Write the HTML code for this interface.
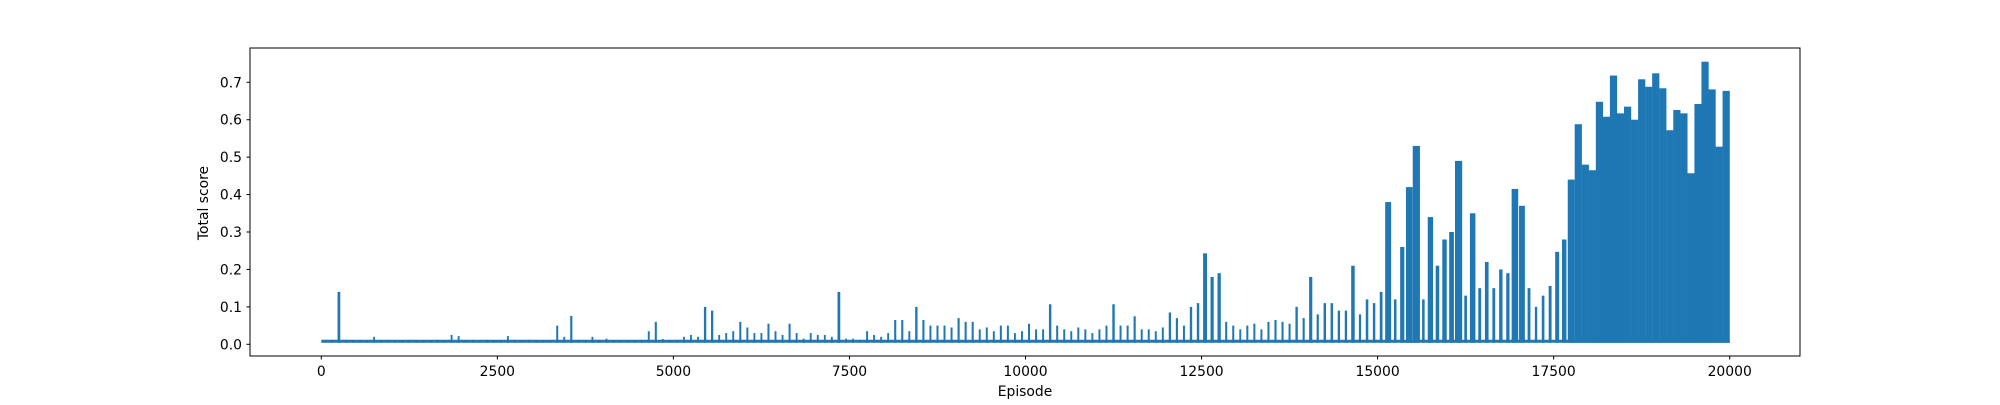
<!DOCTYPE html>
<html><head><meta charset="utf-8"><style>
body{margin:0;background:#fff;}
svg text{font-family:"DejaVu Sans","Liberation Sans",sans-serif;font-size:13.9px;fill:#000;}
</style></head><body>
<svg id="chart" width="2000" height="400" viewBox="0 0 2000 400" xmlns="http://www.w3.org/2000/svg">
<rect width="2000" height="400" fill="#fff"/>
<g id="marks"></g>
<g id="axes"></g>
<rect x="250" y="48" width="1550" height="308" fill="none" stroke="#000" stroke-width="1"/>
<text x="1025" y="396" text-anchor="middle">Episode</text>
<text transform="translate(208,203) rotate(-90)" text-anchor="middle">Total score</text>
</svg>
<script>
const binSize = 100;
const scores = [
0.012,0.012,0.14,0.012,0.01,0.01,0.01,0.02,0.01,0.01,
0.01,0.01,0.012,0.01,0.01,0.01,0.012,0.01,0.025,0.022,
0.01,0.012,0.01,0.012,0.01,0.01,0.022,0.012,0.01,0.012,
0.01,0.01,0.01,0.05,0.02,0.076,0.01,0.01,0.02,0.012,
0.015,0.01,0.01,0.01,0.01,0.012,0.035,0.06,0.014,0.01,
0.012,0.02,0.025,0.02,0.1,0.09,0.025,0.03,0.035,0.06,
0.045,0.03,0.03,0.055,0.035,0.025,0.055,0.03,0.015,0.03,
0.025,0.025,0.02,0.14,0.015,0.015,0.012,0.035,0.025,0.02,
0.03,0.065,0.065,0.035,0.1,0.065,0.05,0.05,0.05,0.045,
0.07,0.06,0.06,0.04,0.045,0.035,0.05,0.05,0.03,0.035,
0.055,0.04,0.04,0.107,0.05,0.04,0.035,0.045,0.04,0.03,
0.04,0.05,0.107,0.05,0.05,0.075,0.04,0.04,0.035,0.045,
0.085,0.07,0.05,0.1,0.11,0.243,0.18,0.19,0.06,0.05,
0.04,0.05,0.055,0.04,0.06,0.065,0.06,0.055,0.1,0.07,
0.18,0.08,0.11,0.11,0.09,0.09,0.21,0.08,0.12,0.11,
0.14,0.38,0.12,0.26,0.42,0.53,0.12,0.34,0.21,0.28,
0.3,0.49,0.13,0.35,0.15,0.22,0.15,0.2,0.19,0.415,
0.37,0.15,0.1,0.13,0.156,0.247,0.28,0.44,0.588,0.48,
0.465,0.648,0.608,0.718,0.617,0.635,0.6,0.708,0.688,0.724,
0.684,0.572,0.626,0.617,0.457,0.642,0.755,0.681,0.528,0.677
];
const baseScore = 0.008;
const xTicks = [0,2500,5000,7500,10000,12500,15000,17500,20000];
const yTicks = [0.0,0.1,0.2,0.3,0.4,0.5,0.6,0.7];
const yTickLabels = ["0.0","0.1","0.2","0.3","0.4","0.5","0.6","0.7"];

function xs(v){return 321.3 + v*0.07042;}
function ys(v){return 344.3 - v*374.3;}
const NS="http://www.w3.org/2000/svg";
const marks=document.getElementById('marks');
const axes=document.getElementById('axes');

const base=document.createElementNS(NS,'line');


base.setAttribute('x1',xs(0));base.setAttribute('x2',xs(scores.length*binSize));
base.setAttribute('y1',ys(baseScore));base.setAttribute('y2',ys(baseScore));
base.setAttribute('stroke','#1f77b4');base.setAttribute('stroke-width','3');
marks.appendChild(base);

scores.forEach((v,i)=>{
  const cx=xs(i*binSize+binSize/2);
  const w=1.8+5.4*Math.min(1,Math.pow(v/0.45,1.5));
  const r=document.createElementNS(NS,'rect');
  
  
  r.setAttribute('x',cx-w/2);r.setAttribute('width',w);
  r.setAttribute('y',ys(v));r.setAttribute('height',ys(baseScore)-ys(v)+1.5);
  r.setAttribute('fill','#1f77b4');
  marks.appendChild(r);
});

xTicks.forEach(t=>{
  const l=document.createElementNS(NS,'line');
  
  
  l.setAttribute('x1',xs(t));l.setAttribute('x2',xs(t));l.setAttribute('y1',356);l.setAttribute('y2',359.5);
  l.setAttribute('stroke','#000');
  axes.appendChild(l);
  const tx=document.createElementNS(NS,'text');
  
  
  tx.setAttribute('x',xs(t));tx.setAttribute('y',376);tx.setAttribute('text-anchor','middle');
  tx.textContent=String(t);
  axes.appendChild(tx);
});
yTicks.forEach((t,i)=>{
  const l=document.createElementNS(NS,'line');
  
  
  l.setAttribute('x1',246.5);l.setAttribute('x2',250);l.setAttribute('y1',ys(t));l.setAttribute('y2',ys(t));
  l.setAttribute('stroke','#000');
  axes.appendChild(l);
  const tx=document.createElementNS(NS,'text');
  
  
  tx.setAttribute('x',242);tx.setAttribute('y',ys(t)+5);tx.setAttribute('text-anchor','end');
  tx.textContent=yTickLabels[i];
  axes.appendChild(tx);
});
</script>
</body></html>
